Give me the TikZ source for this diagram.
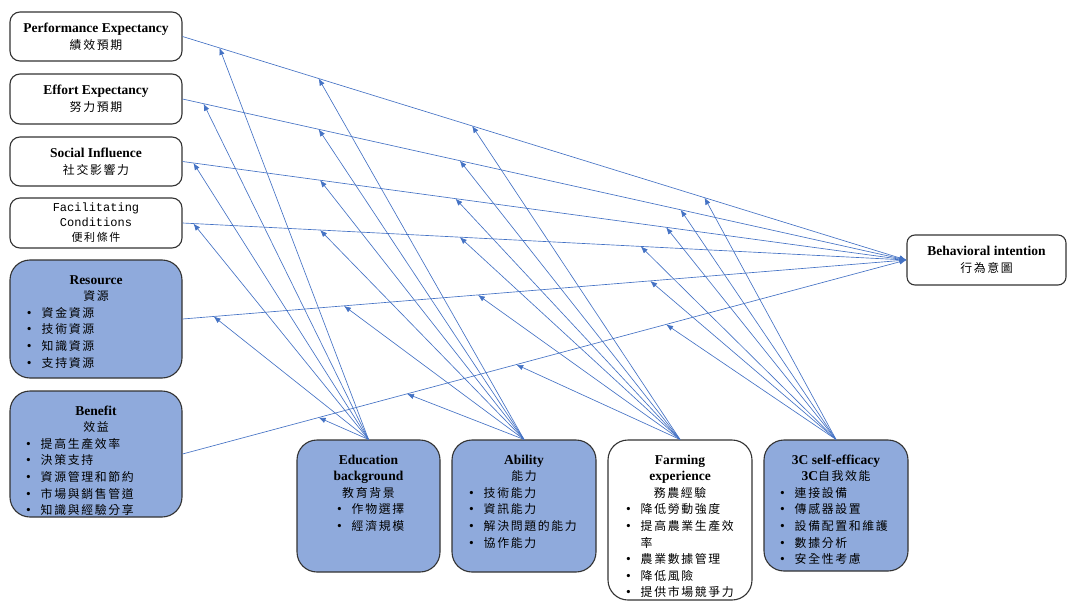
\documentclass[tikz,border=0pt]{standalone}
\usepackage{fontspec}
\setmainfont{Liberation Serif}
\setmonofont{Liberation Mono}
\newfontfamily\cjk[Scale=0.88,LetterSpace=14]{Noto Sans CJK TC}
\usetikzlibrary{arrows.meta}
\definecolor{boxblue}{HTML}{8FAADC}
\definecolor{linkblue}{HTML}{4472C4}
\definecolor{boxline}{HTML}{333333}

% bullet line and its continuation
\newcommand{\bitem}[2][17pt]{\makebox[\hsize][l]{\hspace{#1}\textbullet\hspace{10pt}{\cjk #2}}}
\newcommand{\bcont}[2][17pt]{\makebox[\hsize][l]{\hspace{#1}\phantom{\textbullet}\hspace{10pt}{\cjk #2}}}
\newcommand{\listtext}[3]{\parbox[c][#2][t]{#1}{\centering\rule{0pt}{24pt}#3}}

\tikzset{
  plainbox/.style={draw=boxline, line width=1.1pt, rounded corners=10pt, fill=white,
    minimum width=172, align=center, inner sep=0pt,
    font=\fontsize{13.5}{16.6}\selectfont},
  listbox/.style={draw=boxline, line width=1.1pt, rounded corners=20pt, fill=boxblue,
    inner sep=0pt, font=\fontsize{13.5}{16.6}\selectfont},
  link/.style={linkblue, line width=0.65pt, -{Latex[length=7pt,width=5.5pt]}}
}

\begin{document}
\begin{tikzpicture}[x=1pt,y=-1pt]
    \useasboundingbox (0,0) rectangle (1068,602);
    % left column
    \node[plainbox, minimum height=49] (pe) at (96,36.5) {\textbf{Performance Expectancy}\\{\cjk 績效預期}};
    \node[plainbox, minimum height=50] (ee) at (96,99) {\textbf{Effort Expectancy}\\{\cjk 努力預期}};
    \node[plainbox, minimum height=49] (si) at (96,161.5) {\textbf{Social Influence}\\{\cjk 社交影響力}};
    \node[plainbox, minimum height=50, font=\fontsize{12}{15}\selectfont] (fc) at (96,223)
        {\texttt{Facilitating}\\\texttt{Conditions}\\{\cjk\fontsize{12.5}{15}\selectfont 便利條件}};
    \node[listbox] (res) at (96,319) {\listtext{172pt}{118pt}{\textbf{Resource}\\{\cjk 資源}\\
        \bitem{資金資源}\\\bitem{技術資源}\\\bitem{知識資源}\\\bitem{支持資源}}};
    \node[listbox] (ben) at (96,454) {\listtext{172pt}{126pt}{\textbf{Benefit}\\{\cjk 效益}\\
        \bitem[16pt]{提高生產效率}\\\bitem[16pt]{決策支持}\\\bitem[16pt]{資源管理和節約}\\
        \bitem[16pt]{市場與銷售管道}\\\bitem[16pt]{知識與經驗分享}}};
    % bottom row
    \node[listbox] (edu) at (368.5,506) {\listtext{143pt}{132pt}{\textbf{Education}\\\textbf{background}\\
        {\cjk 教育背景}\\\bitem[40pt]{作物選擇}\\\bitem[40pt]{經濟規模}}};
    \node[listbox] (abl) at (524,506) {\listtext{144pt}{132pt}{\textbf{Ability}\\{\cjk 能力}\\
        \bitem{技術能力}\\\bitem{資訊能力}\\\bitem{解決問題的能力}\\\bitem{協作能力}}};
    \node[listbox, fill=white] (frm) at (680,520) {\listtext{144pt}{160pt}{\textbf{Farming}\\\textbf{experience}\\
        {\cjk 務農經驗}\\\bitem[18pt]{降低勞動強度}\\\bitem[18pt]{提高農業生產效}\\\bcont[18pt]{率}\\
        \bitem[18pt]{農業數據管理}\\\bitem[18pt]{降低風險}\\\bitem[18pt]{提供市場競爭力}}};
    \node[listbox] (sc) at (836,505.5) {\listtext{144pt}{131pt}{\textbf{3C self-efficacy}\\\textbf{3C}{\cjk 自我效能}\\
        \bitem[16pt]{連接設備}\\\bitem[16pt]{傳感器設置}\\\bitem[16pt]{設備配置和維護}\\
        \bitem[16pt]{數據分析}\\\bitem[16pt]{安全性考慮}}};
    % outcome
    \node[plainbox, minimum width=159, minimum height=50, rounded corners=8pt] (bi) at (986.5,260)
        {\textbf{Behavioral intention}\\{\cjk 行為意圖}};
    % direct paths, with the points where the moderators meet them
    \draw[link] (pe.east) -- coordinate[pos=.051] (pe-edu) coordinate[pos=.188] (pe-abl)
        coordinate[pos=.40] (pe-frm) coordinate[pos=.721] (pe-sc) (bi.west);
    \draw[link] (ee.east) -- coordinate[pos=.029] (ee-edu) coordinate[pos=.188] (ee-abl)
        coordinate[pos=.383] (ee-frm) coordinate[pos=.688] (ee-sc) (bi.west);
    \draw[link] (si.east) -- coordinate[pos=.015] (si-edu) coordinate[pos=.19] (si-abl)
        coordinate[pos=.377] (si-frm) coordinate[pos=.668] (si-sc) (bi.west);
    \draw[link] (fc.east) -- coordinate[pos=.015] (fc-edu) coordinate[pos=.19] (fc-abl)
        coordinate[pos=.383] (fc-frm) coordinate[pos=.633] (fc-sc) (bi.west);
    \draw[link] (res.east) -- coordinate[pos=.043] (res-edu) coordinate[pos=.223] (res-abl)
        coordinate[pos=.408] (res-frm) coordinate[pos=.646] (res-sc) (bi.west);
    \draw[link] (ben.east) -- coordinate[pos=.188] (ben-edu) coordinate[pos=.31] (ben-abl)
        coordinate[pos=.461] (ben-frm) coordinate[pos=.668] (ben-sc) (bi.west);
    % moderating arrows
    \foreach \m in {edu,abl,frm,sc}
      \foreach \p in {pe,ee,si,fc,res,ben}
        \draw[link] (\m.north) -- (\p-\m);
\end{tikzpicture}
\end{document}
